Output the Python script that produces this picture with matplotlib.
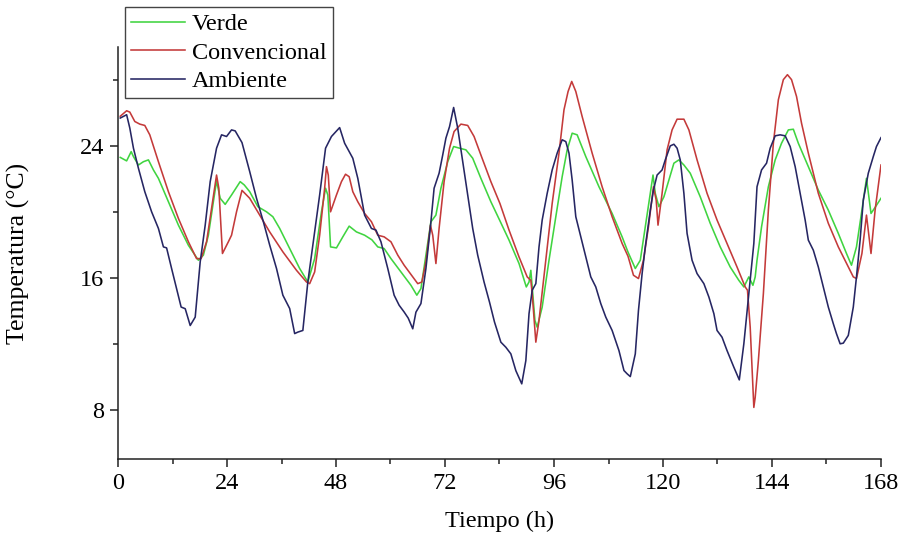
import matplotlib
matplotlib.use("Agg")
import matplotlib.pyplot as plt
from matplotlib.ticker import MultipleLocator

# ---------------- data (hours, °C) ----------------
verde_h = [0.5, 1.9, 2.9, 3.4, 4.5, 5.6, 6.7, 7.8, 8.9, 11.1, 13.3, 15.5, 17.7, 18.8, 19.9, 21.0, 21.7,
           22.5, 23.6, 25.0, 26.9, 27.8, 29.0, 30.8, 32.7, 34.1, 35.6, 37.8, 40.0, 41.8, 43.3, 44.8, 45.7,
           46.2, 46.8, 48.1, 49.5, 50.9, 52.5, 54.3, 55.9, 57.2, 58.6, 60.1, 62.3, 64.5, 65.8, 66.7, 67.8,
           68.9, 70.0, 71.1, 72.6, 73.9, 75.2, 76.6, 78.1, 79.9, 82.1, 84.1, 86.1, 88.3, 89.9, 90.5, 90.9,
           91.2, 91.8, 92.3, 93.4, 94.9, 96.4, 97.8, 98.9, 100.0, 101.1, 103.0, 105.9, 108.8, 111.0, 112.3,
           113.9, 115.0, 116.1, 117.2, 117.8, 118.3, 119.1, 120.2, 121.3, 122.4, 123.5, 124.6, 126.0, 128.2,
           130.4, 132.6, 134.8, 136.7, 137.8, 138.9, 139.8, 140.3, 140.7, 141.7, 143.2, 144.7, 146.1, 147.6,
           148.7, 149.8, 152.0, 154.2, 156.4, 158.6, 160.4, 161.5, 162.6, 163.8, 164.8, 165.8, 166.8, 168.0]
verde_t = [23.3, 23.09, 23.65, 23.35, 22.84, 23.04, 23.15, 22.54, 22.03, 20.61, 19.19, 17.97, 17.06, 17.37,
           18.58, 20.61, 21.87, 20.82, 20.45, 21.02, 21.83, 21.63, 21.22, 20.31, 20.0, 19.7, 18.99, 17.77,
           16.56, 15.74, 17.16, 20.0, 21.43, 21.02, 17.87, 17.81, 18.48, 19.13, 18.78, 18.58, 18.3, 17.87,
           17.77, 17.16, 16.35, 15.54, 14.94, 15.34, 17.37, 19.39, 19.8, 21.43, 23.04, 23.96, 23.86, 23.76,
           23.25, 22.03, 20.61, 19.45, 18.28, 16.86, 15.44, 15.74, 16.45, 15.44, 13.41, 13.0, 14.22, 17.06,
           19.7, 22.13, 23.76, 24.77, 24.67, 23.35, 21.52, 19.9, 18.48, 17.55, 16.56, 17.06, 19.09, 21.12,
           22.23, 21.12, 20.31, 20.91, 21.93, 22.95, 23.15, 22.84, 22.34, 20.91, 19.3, 17.87, 16.65, 15.84,
           15.44, 16.05, 15.54, 16.05, 17.06, 19.09, 21.52, 23.15, 24.16, 24.97, 25.01, 24.16, 22.74, 21.32,
           20.1, 18.69, 17.47, 16.76, 17.87, 20.1, 22.03, 19.9, 20.31, 20.82]

conv_h = [0.5, 1.9, 2.6, 3.7, 4.8, 5.9, 7.0, 8.9, 11.1, 13.3, 15.5, 17.3, 18.3, 19.5, 20.6, 21.7, 22.2,
          23.0, 24.3, 25.0, 26.1, 27.3, 29.0, 31.2, 33.4, 36.3, 39.3, 41.5, 42.2, 43.3, 44.4, 45.5, 45.9,
          46.3, 46.8, 48.1, 49.2, 50.1, 50.9, 51.7, 52.8, 54.3, 55.8, 57.2, 58.6, 60.1, 61.6, 63.0, 64.9,
          66.0, 66.9, 67.8, 68.8, 69.3, 70.0, 70.7, 71.8, 73.0, 74.0, 75.5, 77.0, 78.4, 79.9, 82.1, 84.1,
          86.1, 88.3, 90.1, 90.9, 91.2, 92.0, 92.7, 94.2, 95.6, 97.1, 98.2, 99.1, 99.9, 100.8, 102.2, 104.4,
          106.6, 108.8, 111.0, 112.3, 113.5, 114.6, 115.7, 116.8, 117.9, 118.5, 118.9, 119.8, 120.9, 122.0,
          123.1, 124.6, 125.7, 127.5, 129.7, 131.9, 134.1, 136.3, 138.1, 138.6, 139.2, 140.0, 140.3, 141.0,
          142.1, 143.2, 144.3, 145.4, 146.5, 147.4, 148.3, 149.4, 150.5, 152.0, 154.2, 156.4, 158.6, 160.8,
          161.9, 162.6, 163.8, 164.8, 165.8, 166.7, 168.0]
conv_t = [25.8, 26.13, 26.05, 25.48, 25.32, 25.24, 24.67, 23.04, 21.22, 19.6, 18.18, 17.16, 17.16, 18.18,
          20.21, 22.23, 21.43, 17.47, 18.18, 18.58, 20.0, 21.3, 20.82, 19.8, 18.78, 17.57, 16.45, 15.74,
          15.64, 16.35, 18.58, 21.43, 22.74, 22.23, 20.0, 21.02, 21.83, 22.28, 22.13, 21.22, 20.61, 19.9,
          19.4, 18.58, 18.48, 18.18, 17.37, 16.76, 16.05, 15.64, 15.74, 16.96, 19.19, 18.58, 16.86, 18.99,
          21.83, 23.86, 24.87, 25.32, 25.24, 24.57, 23.45, 21.83, 20.5, 18.89, 17.26, 16.05, 15.84, 15.03,
          12.09, 13.41, 17.06, 20.51, 23.56, 26.19, 27.3, 27.91, 27.3, 25.78, 23.56, 21.52, 19.7, 18.08,
          17.3, 16.15, 15.95, 17.06, 19.09, 21.52, 20.71, 19.19, 21.12, 23.76, 24.97, 25.62, 25.62, 24.97,
          23.15, 21.12, 19.5, 18.08, 16.65, 15.44, 15.24, 13.0, 8.13, 8.74, 10.97, 15.03, 20.1, 24.16, 26.8,
          28.02, 28.32, 28.02, 27.0, 25.38, 23.56, 21.12, 19.3, 17.87, 16.65, 16.05, 15.95, 17.47, 19.8,
          17.47, 20.1, 22.84]

amb_h = [0.5, 1.9, 2.6, 3.4, 4.5, 5.9, 7.4, 8.9, 10.0, 10.7, 11.8, 12.9, 13.9, 14.8, 15.9, 17.0, 18.1,
         19.2, 20.3, 21.7, 22.8, 23.9, 25.0, 25.8, 27.3, 29.0, 30.5, 32.0, 33.4, 34.9, 36.3, 37.8, 38.9,
         39.6, 40.7, 41.8, 42.9, 44.4, 45.7, 47.0, 48.8, 49.9, 51.7, 52.8, 54.3, 55.8, 56.8, 57.9, 59.4,
         60.8, 61.9, 63.0, 63.9, 64.9, 65.6, 66.7, 67.8, 68.9, 69.6, 70.7, 71.5, 72.2, 73.0, 73.9, 74.8,
         75.9, 77.0, 78.1, 79.2, 80.6, 81.8, 82.9, 84.3, 85.4, 86.5, 87.6, 88.9, 89.8, 90.5, 91.2, 92.0,
         92.7, 93.4, 94.5, 95.6, 96.7, 97.8, 98.6, 99.3, 100.0, 100.8, 101.9, 103.0, 104.1, 105.2, 106.3,
         107.4, 108.8, 110.3, 111.4, 112.1, 112.8, 113.9, 114.6, 115.4, 116.1, 117.2, 117.9, 118.7, 119.8,
         120.5, 121.6, 122.4, 123.1, 123.8, 124.6, 125.3, 126.4, 127.5, 129.0, 130.1, 131.2, 131.9, 133.0,
         134.1, 135.6, 136.8, 137.8, 138.9, 140.0, 140.7, 141.7, 142.8, 143.6, 144.7, 145.8, 146.9, 148.0,
         149.1, 150.2, 151.3, 152.0, 153.1, 154.2, 155.3, 156.4, 157.5, 158.2, 159.0, 159.7, 160.8, 161.9,
         162.6, 163.4, 164.1, 165.2, 166.3, 167.0, 168.0]
amb_t = [25.69, 25.89, 25.08, 23.86, 22.64, 21.22, 20.0, 18.99, 17.87, 17.81, 16.56, 15.34, 14.22, 14.12,
         13.1, 13.61, 16.96, 19.19, 21.83, 23.86, 24.67, 24.57, 24.97, 24.91, 24.2, 22.44, 20.82, 19.4,
         17.98, 16.56, 14.94, 14.13, 12.61, 12.7, 12.8, 15.74, 17.97, 21.02, 23.86, 24.57, 25.11, 24.16,
         23.25, 22.03, 19.8, 18.99, 18.89, 18.18, 16.56, 14.94, 14.33, 13.92, 13.55, 12.9, 13.91, 14.43,
         16.56, 19.39, 21.43, 22.34, 23.45, 24.47, 25.17, 26.33, 25.08, 23.04, 21.02, 18.99, 17.37, 15.74,
         14.52, 13.31, 12.09, 11.78, 11.38, 10.36, 9.56, 10.97, 13.82, 15.24, 15.64, 17.87, 19.5, 21.12,
         22.54, 23.56, 24.37, 24.26, 23.56, 21.93, 19.7, 18.48, 17.26, 16.05, 15.44, 14.43, 13.61, 12.8,
         11.58, 10.37, 10.17, 10.0, 11.38, 14.02, 16.25, 17.87, 20.1, 21.32, 22.23, 22.54, 23.15, 24.0,
         24.1, 23.86, 23.15, 21.12, 18.69, 17.06, 16.25, 15.64, 14.83, 13.82, 12.8, 12.39, 11.58, 10.57,
         9.8, 11.99, 15.03, 18.08, 21.52, 22.54, 22.95, 23.86, 24.61, 24.67, 24.61, 23.96, 22.74, 21.12,
         19.5, 18.28, 17.67, 16.65, 15.44, 14.22, 13.21, 12.6, 11.99, 12.03, 12.5, 14.22, 16.05, 18.28,
         20.71, 22.34, 23.35, 23.96, 24.5]

series_labels = ["Verde", "Convencional", "Ambiente"]
x_ticks = [0, 24, 48, 72, 96, 120, 144, 168]
y_ticks = [8, 16, 24]
x_label = "Tiempo (h)"
y_label = "Temperatura (°C)"

# ---------------- style ----------------
plt.rcParams['font.family'] = ['Liberation Serif', 'DejaVu Serif']
FS = 17.5

fig = plt.figure(figsize=(8.99, 5.42), dpi=100)
ax = fig.add_axes([118/899, 1-459/542, (881-118)/899, (459-47)/542])

c_verde = "#40d440"
c_conv = "#c43a3a"
c_amb = "#262663"
lw = 1.15
l1, = ax.plot(verde_h, verde_t, color=c_verde, lw=lw, label=series_labels[0])
l2, = ax.plot(conv_h, conv_t, color=c_conv, lw=lw, label=series_labels[1])
l3, = ax.plot(amb_h, amb_t, color=c_amb, lw=lw, label=series_labels[2])

ax.set_xlim(0, 168)
ax.set_ylim(5, 30)
ax.set_xticks(x_ticks)
ax.set_yticks(y_ticks)
ax.xaxis.set_minor_locator(MultipleLocator(12))
ax.yaxis.set_minor_locator(MultipleLocator(4))

for s in ["top", "right"]:
    ax.spines[s].set_visible(False)
for s in ["left", "bottom"]:
    ax.spines[s].set_linewidth(1.1)
    ax.spines[s].set_color("#222222")

ax.tick_params(which="major", direction="out", length=6, width=1.1, labelsize=FS, pad=4, color="#222222")
ax.tick_params(which="minor", direction="out", length=3.5, width=1.1, color="#222222")

ax.set_xlabel(x_label, fontsize=FS)
ax.set_ylabel(y_label, fontsize=18.5)
ax.xaxis.set_label_coords(0.5, -0.125)
ax.yaxis.set_label_coords(-0.115, 0.5)

leg = ax.legend(handles=[l1, l2, l3], loc="upper left",
                bbox_to_anchor=(125/899, 1-7/542), bbox_transform=fig.transFigure,
                borderaxespad=0, fontsize=FS, frameon=True, fancybox=False,
                handlelength=2.2, handletextpad=0.3, labelspacing=0.27, borderpad=0.25)
leg.get_frame().set_edgecolor("#444444")
leg.get_frame().set_linewidth(1.0)
leg.get_frame().set_alpha(1)

fig.savefig("out.png", dpi=100)
